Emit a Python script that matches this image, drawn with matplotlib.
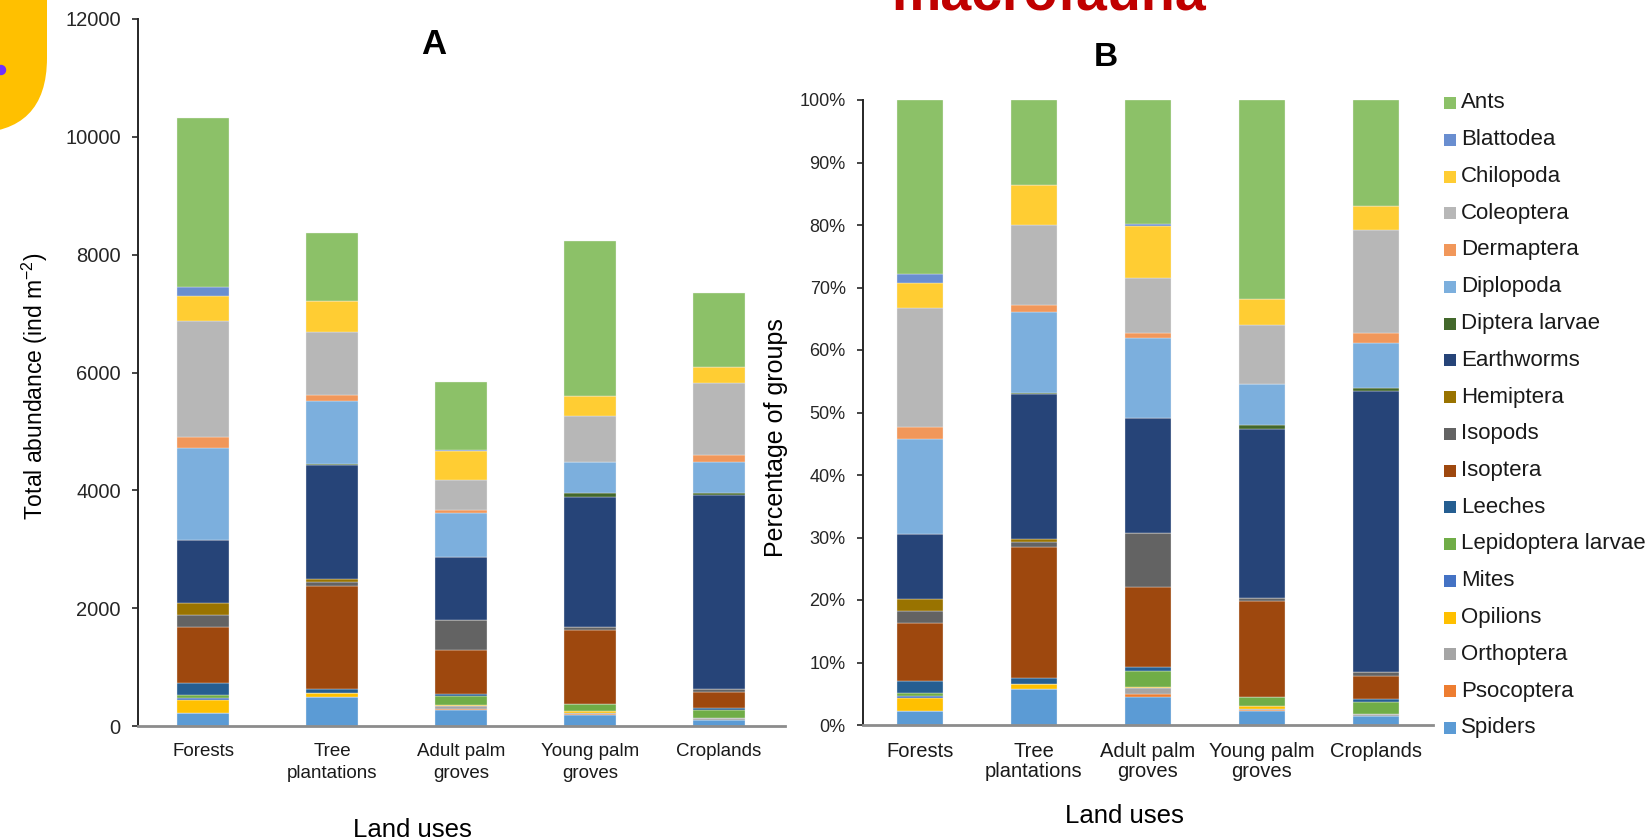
import numpy as np
import matplotlib.pyplot as plt
from matplotlib.patches import FancyBboxPatch, Circle, Rectangle

plt.rcParams['font.family'] = ['Liberation Sans', 'DejaVu Sans']
plt.rcParams['mathtext.fontset'] = 'custom'
plt.rcParams['mathtext.rm'] = 'Liberation Sans'
plt.rcParams['mathtext.it'] = 'Liberation Sans:italic'

W, H = 1649, 840

land_uses = ['Forests', 'Tree\nplantations', 'Adult palm\ngroves', 'Young palm\ngroves', 'Croplands']

# stacking order, bottom -> top
groups = ['Spiders', 'Psocoptera', 'Orthoptera', 'Opilions', 'Mites', 'Lepidoptera larvae',
          'Leeches', 'Isoptera', 'Isopods', 'Hemiptera', 'Earthworms', 'Diptera larvae',
          'Diplopoda', 'Dermaptera', 'Coleoptera', 'Chilopoda', 'Blattodea', 'Ants']
colors = ['#5B9BD5', '#ED7D31', '#A5A5A5', '#FFC000', '#4472C4', '#70AD47',
          '#255E91', '#9E480E', '#636363', '#997300', '#264478', '#43682B',
          '#7CAFDD', '#F1975A', '#B7B7B7', '#FFCD33', '#698ED0', '#8CC168']

# abundance (ind m-2) per land use, same order as groups
forests = [226, 0, 0, 215, 39, 46, 199, 961, 199, 198, 1075, 0, 1567, 187, 1965, 424, 148, 2870]
tree_plantations = [487, 0, 0, 68, 0, 0, 68, 1754, 73, 41, 1936, 22, 1075, 96, 1075, 526, 0, 1143]
adult_palm = [265, 25, 53, 12, 0, 153, 37, 747, 503, 0, 1080, 0, 740, 47, 514, 493, 15, 1161]
young_palm = [187, 14, 14, 40, 0, 119, 0, 1256, 46, 0, 2218, 57, 537, 0, 781, 340, 0, 2626]
croplands = [102, 0, 28, 0, 0, 142, 28, 272, 51, 0, 3299, 40, 526, 113, 1218, 282, 0, 1240]

abund = np.array([forests, tree_plantations, adult_palm, young_palm, croplands], dtype=float).T
pct = abund / abund.sum(axis=0) * 100

fig = plt.figure(figsize=(W / 100, H / 100), dpi=100)

# slide decorations (pixel coordinates)
deco = fig.add_axes([0, 0, 1, 1])
deco.set_xlim(0, W)
deco.set_ylim(H, 0)
deco.axis('off')
deco.add_patch(FancyBboxPatch((-150, -200), 197, 333, boxstyle='round,pad=0,rounding_size=75',
                              facecolor='#FFC000', edgecolor='none'))
deco.add_patch(Circle((1, 70), 4.5, color='#7030FF'))
deco.text(891, 9, 'macrofauna', color='#C00000', fontsize=40, fontweight='bold',
          ha='left', va='baseline')


def px_axes(x0, x1, y_top, y_bot):
    return fig.add_axes([x0 / W, 1 - y_bot / H, (x1 - x0) / W, (y_bot - y_top) / H])


def stacked(ax, data, width):
    x = np.arange(data.shape[1])
    bottom = np.zeros(data.shape[1])
    for vals, c in zip(data, colors):
        ax.bar(x, vals, width, bottom=bottom, color=c, edgecolor='#f2f2f2', linewidth=0.25)
        bottom += vals


def style(ax):
    for s in ['top', 'right']:
        ax.spines[s].set_visible(False)
    ax.spines['left'].set_color('#262626')
    ax.spines['left'].set_linewidth(1.4)
    ax.spines['bottom'].set_color('#8c8c8c')
    ax.spines['bottom'].set_linewidth(2)
    ax.tick_params(axis='y', direction='out', length=4.5, width=1.2, color='#262626', pad=8)
    ax.tick_params(axis='x', length=0)


# Panel A
ax_a = px_axes(138, 785, 19, 726)
stacked(ax_a, abund, 0.403)
ax_a.set_xlim(-0.504, 4.512)
ax_a.set_ylim(0, 12000)
ax_a.set_yticks(np.arange(0, 12001, 2000))
style(ax_a)
ax_a.tick_params(axis='y', labelsize=14.5, labelcolor='#262626')
ax_a.set_xticks(range(5))
ax_a.set_xticklabels(land_uses, fontsize=13.5, color='#1a1a1a', linespacing=1.4)
ax_a.tick_params(axis='x', pad=12)
ax_a.set_ylabel('Total abundance (ind m$^{-2}$)', fontsize=16.5)
ax_a.yaxis.label.set_va('center')
ax_a.yaxis.set_label_coords(-0.159, 0.48)
ax_a.set_xlabel('Land uses', fontsize=18.5)
ax_a.xaxis.label.set_va('center')
ax_a.xaxis.set_label_coords(0.4235, -0.147)
fig.text(434 / W, 1 - 45 / H, 'A', fontsize=25, fontweight='bold', ha='center', va='center')

# Panel B
ax_b = px_axes(863, 1433, 100, 725)
stacked(ax_b, pct, 0.40)
ax_b.set_xlim(-0.5, 4.5)
ax_b.set_ylim(0, 100)
ax_b.set_yticks(np.arange(0, 101, 10))
ax_b.set_yticklabels([f'{v}%' for v in range(0, 101, 10)])
style(ax_b)
ax_b.tick_params(axis='y', labelsize=13, labelcolor='#262626')
ax_b.set_xticks(range(5))
ax_b.set_xticklabels(land_uses, fontsize=14.5, color='#1a1a1a', linespacing=1.1)
ax_b.tick_params(axis='x', pad=12)
ax_b.set_ylabel('Percentage of groups', fontsize=18)
ax_b.yaxis.label.set_va('center')
ax_b.yaxis.set_label_coords(-0.153, 0.46)
ax_b.set_xlabel('Land uses', fontsize=18.5)
ax_b.xaxis.label.set_va('center')
ax_b.xaxis.set_label_coords(0.458, -0.1456)
fig.text(1106 / W, 1 - 58 / H, 'B', fontsize=24, fontweight='bold', ha='center', va='center')

# legend, top -> bottom
for i, (g, c) in enumerate(zip(groups[::-1], colors[::-1])):
    y = 103 + i * 36.75
    deco.add_patch(Rectangle((1444, y - 6), 12, 12, facecolor=c, edgecolor='none'))
    deco.text(1461, y, g, fontsize=16, color='#1a1a1a', ha='left', va='center')

fig.savefig('out.png', dpi=100)
